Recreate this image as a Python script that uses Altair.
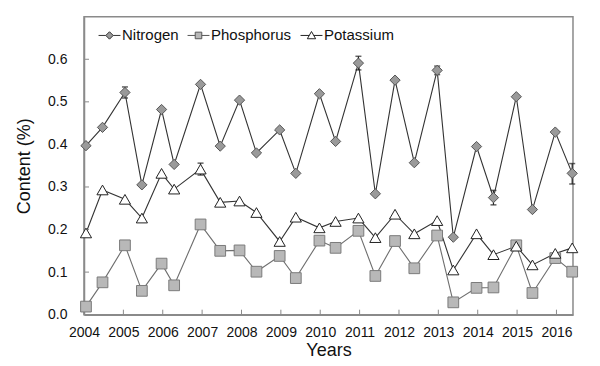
import altair as alt
import pandas as pd

# ---- data ----
x_dates = [2004.05, 2004.47, 2005.04, 2005.47, 2005.97, 2006.29, 2006.96, 2007.46,
           2007.95, 2008.38, 2008.97, 2009.38, 2009.98, 2010.39, 2010.97, 2011.40,
           2011.90, 2012.39, 2012.97, 2013.38, 2013.97, 2014.40, 2014.98, 2015.39,
           2015.97, 2016.40]
nitrogen = [0.397, 0.44, 0.522, 0.305, 0.482, 0.353, 0.541, 0.396, 0.504, 0.38,
            0.434, 0.332, 0.519, 0.407, 0.591, 0.284, 0.551, 0.357, 0.574, 0.182,
            0.395, 0.275, 0.512, 0.247, 0.429, 0.332]
phosphorus = [0.019, 0.076, 0.163, 0.056, 0.12, 0.069, 0.212, 0.15, 0.151, 0.101,
              0.138, 0.086, 0.174, 0.157, 0.197, 0.091, 0.173, 0.109, 0.186, 0.029,
              0.063, 0.064, 0.163, 0.051, 0.133, 0.101]
potassium = [0.192, 0.293, 0.271, 0.227, 0.332, 0.295, 0.342, 0.264, 0.267, 0.24,
             0.172, 0.229, 0.204, 0.219, 0.227, 0.181, 0.236, 0.19, 0.221, 0.105,
             0.19, 0.141, 0.161, 0.117, 0.144, 0.157]

err_series = ["Nitrogen", "Potassium", "Nitrogen", "Nitrogen", "Nitrogen", "Nitrogen"]
err_x = [2005.04, 2006.96, 2010.97, 2012.97, 2014.40, 2016.40]
err_low = [0.509, 0.328, 0.575, 0.564, 0.258, 0.307]
err_high = [0.535, 0.356, 0.607, 0.584, 0.292, 0.355]

series_names = ["Nitrogen", "Phosphorus", "Potassium"]
year_ticks = list(range(2004, 2017))
y_ticks = [0.0, 0.1, 0.2, 0.3, 0.4, 0.5, 0.6]

# ---- tables ----
rows = []
for name, vals in zip(series_names, [nitrogen, phosphorus, potassium]):
    for xv, yv in zip(x_dates, vals):
        rows.append({"series": name, "x": xv, "y": yv})
df = pd.DataFrame(rows)
err_df = pd.DataFrame({"series": err_series, "x": err_x, "low": err_low, "high": err_high})
xt_df = pd.DataFrame({"x": year_ticks})
yt_df = pd.DataFrame({"y": y_ticks})

W, H = 489, 298
FONT = "Liberation Sans"

xscale = alt.Scale(domain=[2004, 2016.42], nice=False, zero=False)
yscale = alt.Scale(domain=[0, 0.7], nice=False)

line_colors = ["#333333", "#6e6e6e", "#333333"]
fill_colors = ["#9a9a9a", "#b8b8b8", "#ffffff"]
stroke_colors = ["#555555", "#7a7a7a", "#222222"]

x_enc = alt.X("x:Q", scale=xscale,
              axis=alt.Axis(values=year_ticks, format="d", title="Years", ticks=False,
                            labelPadding=11, titlePadding=2, grid=False,
                            labelOverlap=False, labelFlush=False, labelBound=False))
y_enc = alt.Y("y:Q", scale=yscale,
              axis=alt.Axis(values=y_ticks, format=".1f", title="Content (%)", ticks=False,
                            labelPadding=17, titlePadding=14, grid=False,
                            labelOverlap=False, labelFlush=False))

lines = alt.Chart(df).mark_line(strokeWidth=1.1).encode(
    x=x_enc, y=y_enc,
    stroke=alt.Stroke("series:N", scale=alt.Scale(domain=series_names, range=line_colors), legend=None),
    detail="series:N",
)

err_rule = alt.Chart(err_df).mark_rule(color="#222222", strokeWidth=1.2).encode(
    x=alt.X("x:Q", scale=xscale), y=alt.Y("low:Q", scale=yscale), y2="high:Q")
err_cap_hi = alt.Chart(err_df).mark_tick(color="#222222", orient="horizontal", size=6, thickness=1.5).encode(
    x=alt.X("x:Q", scale=xscale), y=alt.Y("high:Q", scale=yscale))
err_cap_lo = alt.Chart(err_df).mark_tick(color="#222222", orient="horizontal", size=6, thickness=1.5).encode(
    x=alt.X("x:Q", scale=xscale), y=alt.Y("low:Q", scale=yscale))

points = alt.Chart(df).mark_point(filled=True, strokeWidth=1, opacity=1).encode(
    x=alt.X("x:Q", scale=xscale), y=alt.Y("y:Q", scale=yscale),
    shape=alt.Shape("series:N", scale=alt.Scale(domain=series_names,
                    range=["diamond", "square", "triangle-up"]), legend=None),
    fill=alt.Fill("series:N", scale=alt.Scale(domain=series_names, range=fill_colors), legend=None),
    stroke=alt.Stroke("series:N", scale=alt.Scale(domain=series_names, range=stroke_colors), legend=None),
    size=alt.Size("series:N", scale=alt.Scale(domain=series_names, range=[105, 125, 135]), legend=None),
)

legend_paths = [
    "M-1,0H-0.34M0.34,0H1M0,-0.34L0.34,0L0,0.34L-0.34,0Z",
    "M-1,0H-0.3M0.3,0H1M-0.3,-0.3H0.3V0.3H-0.3Z",
    "M-1,0H-0.2M0.2,0H1M0,-0.36L0.38,0.3H-0.38Z",
]
leg = alt.Legend(title=None, orient="none", legendX=14, legendY=7, direction="horizontal",
                 labelFont=FONT, labelFontSize=15, labelColor="#111111", symbolSize=480,
                 symbolOpacity=1, symbolStrokeWidth=1, labelOffset=1, columnPadding=6, padding=0)
legend_layer = alt.Chart(df).mark_point(filled=True, opacity=0, strokeWidth=1).encode(
    x=alt.X("x:Q", scale=xscale), y=alt.Y("y:Q", scale=yscale),
    shape=alt.Shape("series:N", scale=alt.Scale(domain=series_names, range=legend_paths), legend=leg),
    fill=alt.Fill("series:N", scale=alt.Scale(domain=series_names, range=fill_colors), legend=leg),
    stroke=alt.Stroke("series:N", scale=alt.Scale(domain=series_names, range=["#333333", "#555555", "#222222"]), legend=leg),
)

xticks = alt.Chart(xt_df).mark_rule(color="#8a8a8a", strokeWidth=1).encode(
    x=alt.X("x:Q", scale=xscale), y=alt.value(H), y2=alt.value(H - 5))
yticks = alt.Chart(yt_df).mark_rule(color="#8a8a8a", strokeWidth=1).encode(
    y=alt.Y("y:Q", scale=yscale), x=alt.value(0), x2=alt.value(5))

chart = alt.layer(lines, xticks, yticks, err_rule, err_cap_hi, err_cap_lo, points, legend_layer).resolve_scale(
    shape="independent", fill="independent", stroke="independent", size="independent"
).properties(
    width=W, height=H,
    autosize=alt.AutoSizeParams(type="none"),
    padding={"left": 76, "top": 8.7, "right": 19, "bottom": 43},
).configure_view(
    stroke="#8a8a8a", strokeWidth=1.5
).configure_axis(
    domainColor="#8a8a8a", domainWidth=1.5,
    labelFont=FONT, labelFontSize=14, labelColor="#111111",
    titleFont=FONT, titleFontSize=18, titleFontWeight="normal", titleColor="#111111",
)

chart.save("out.html", embed_options={"renderer": "svg", "actions": False})
